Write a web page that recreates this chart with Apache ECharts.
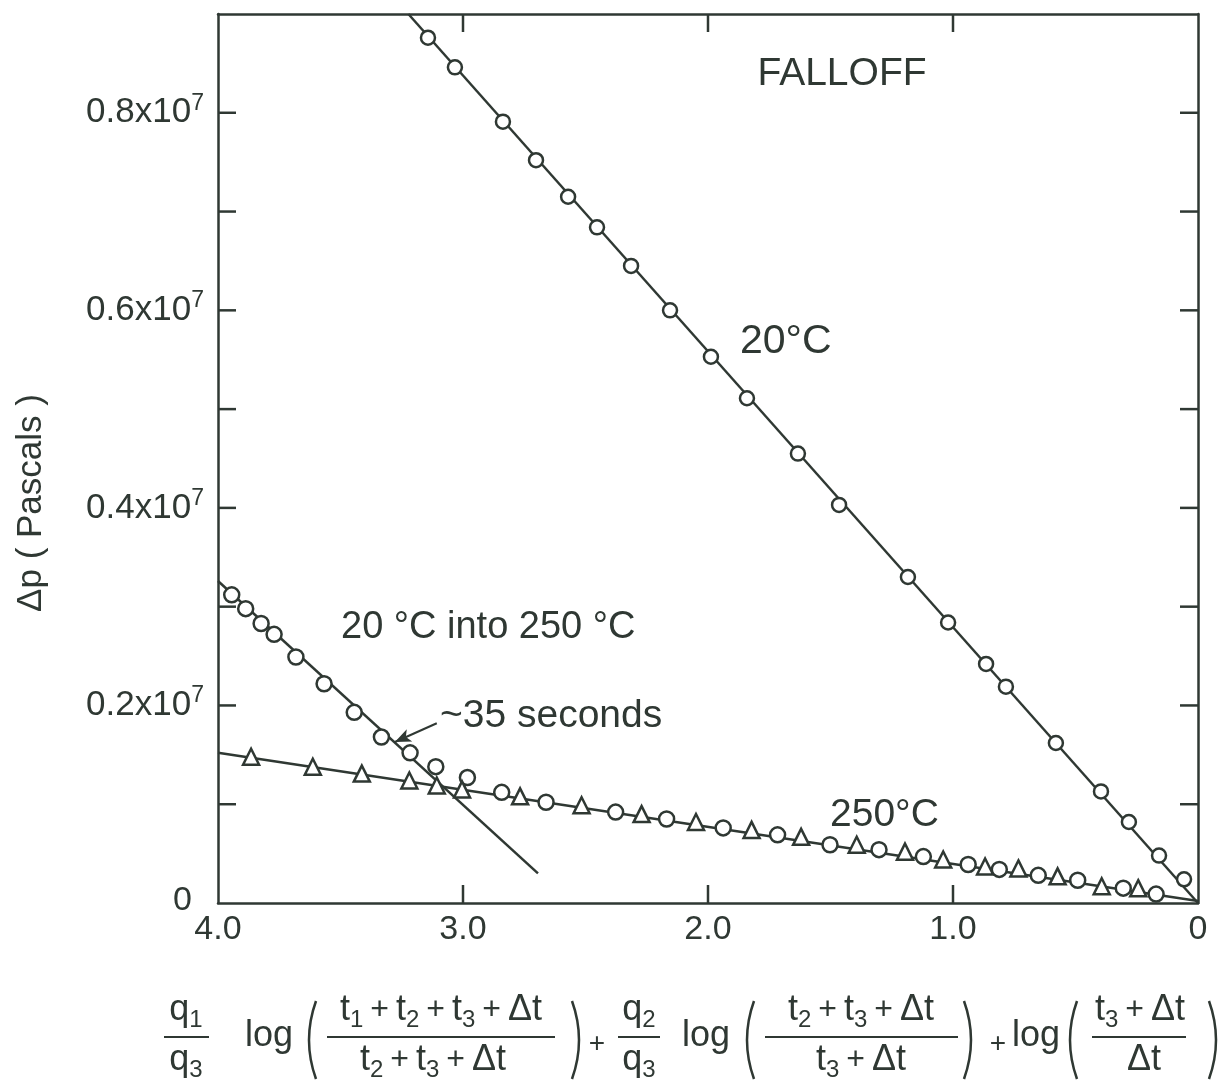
<!DOCTYPE html>
<html>
<head>
<meta charset="utf-8">
<script src="https://cdn.jsdelivr.net/npm/echarts@6/dist/echarts.min.js"></script>
<style>
  html, body { margin: 0; padding: 0; background: #fff; }
  #main { width: 1229px; height: 1082px; }
</style>
</head>
<body>
<div id="main"></div>
<script>
// x = (q1/q3)log(...) + (q2/q3)log(...) + log(...), y = Δp in units of 10^7 Pa

// 20 °C falloff (circles)
const x20 = [3.143, 3.033, 2.837, 2.702, 2.571, 2.453, 2.314, 2.155, 1.988, 1.841, 1.633,
  1.465, 1.184, 1.020, 0.865, 0.784, 0.580, 0.396, 0.282, 0.159, 0.057]
const dp20 = [0.876, 0.846, 0.791, 0.752, 0.715, 0.684, 0.645, 0.600, 0.553, 0.511, 0.455,
  0.403, 0.330, 0.284, 0.242, 0.219, 0.162, 0.113, 0.082, 0.048, 0.024]

// 20 °C into 250 °C (circles)
const xInto = [3.944, 3.887, 3.824, 3.771, 3.682, 3.567, 3.444, 3.333, 3.216, 3.111, 2.982,
  2.842, 2.661, 2.377, 2.169, 1.938, 1.716, 1.502, 1.302, 1.121, 0.938, 0.811, 0.652,
  0.491, 0.305, 0.171]
const dpInto = [0.312, 0.298, 0.283, 0.272, 0.249, 0.222, 0.193, 0.168, 0.152, 0.138, 0.127,
  0.112, 0.102, 0.092, 0.085, 0.076, 0.069, 0.059, 0.054, 0.047, 0.039, 0.034, 0.028,
  0.023, 0.015, 0.009]

// 250 °C falloff (triangles)
const x250 = [3.865, 3.613, 3.413, 3.219, 3.107, 3.004, 2.767, 2.516, 2.271, 2.049, 1.822,
  1.620, 1.393, 1.196, 1.040, 0.869, 0.733, 0.573, 0.393, 0.244]
const dp250 = [0.148, 0.138, 0.131, 0.124, 0.119, 0.115, 0.108, 0.099, 0.090, 0.082, 0.074,
  0.067, 0.059, 0.052, 0.044, 0.037, 0.035, 0.027, 0.017, 0.015]

// straight lines drawn through the data
const fit20X = [0, 3.223]
const fit20Y = [0, 0.9]
const fitIntoX = [4.0, 2.694]
const fitIntoY = [0.326, 0.030]
const fit250X = [4.0, 0]
const fit250Y = [0.152, 0.002]

// "~35 seconds" arrow
const arrowFrom = [3.107, 0.182]
const arrowTo = [3.278, 0.163]

const xTicks = ['4.0', '3.0', '2.0', '1.0', '0']
// inner tick marks on the frame
const xTickVals = [1, 2, 3]
const yTickVals = [0.1, 0.2, 0.3, 0.4, 0.5, 0.6, 0.7, 0.8]

const ink = '#2f3833'
const fam = 'Liberation Sans'

function pairs(xs, ys) {
  return xs.map(function (x, i) { return [x, ys[i]] })
}

const chart = echarts.init(document.getElementById('main'))

// formula styles
const fr = {
  m: { fontSize: 36, lineHeight: 44, fontFamily: fam },
  b: { fontSize: 24, lineHeight: 14, verticalAlign: 'bottom', fontFamily: fam },
  p: { fontSize: 32, lineHeight: 44, fontFamily: fam, padding: [0, 7, 0, 7] }
}

function t(x, y, text, size, extra) {
  return {
    type: 'text', x: x, y: y, silent: true,
    style: Object.assign({
      text: text, fontSize: size, fontFamily: fam, fill: ink,
      align: 'center', verticalAlign: 'middle', rich: fr
    }, extra || {})
  }
}
function seg(x1, y1, x2, y2, w) {
  return { type: 'line', silent: true, z: 100, shape: { x1: x1, y1: y1, x2: x2, y2: y2 }, style: { stroke: ink, lineWidth: w } }
}
function bar(x1, x2, y) {
  return seg(x1, y, x2, y, 2)
}
// thin tall parenthesis, dir -1 = "(" , 1 = ")"
function paren(x, dir) {
  return { type: 'bezierCurve', silent: true,
    shape: { x1: x - dir * 5, y1: 1001, x2: x - dir * 5, y2: 1079, cpx1: x + dir * 9, cpy1: 1040 },
    style: { stroke: ink, lineWidth: 2.5, fill: null } }
}

const numY = 1010
const denY = 1060
const barY = 1037

const formula = [
  t(186, numY, '{m|q}{b|1}'), bar(164, 209, barY), t(186, denY, '{m|q}{b|3}'),
  t(269, 1036, '{m|log}'),
  paren(311, -1),
  t(441, numY, '{m|t}{b|1}{p|+}{m|t}{b|2}{p|+}{m|t}{b|3}{p|+}{m|Δt}'), bar(327, 555, barY),
  t(433, denY, '{m|t}{b|2}{p|+}{m|t}{b|3}{p|+}{m|Δt}'),
  paren(577, 1),
  t(597, 1044, '+', 28),
  t(639, numY, '{m|q}{b|2}'), bar(618, 660, barY), t(639, denY, '{m|q}{b|3}'),
  t(706, 1036, '{m|log}'),
  paren(749, -1),
  t(861, numY, '{m|t}{b|2}{p|+}{m|t}{b|3}{p|+}{m|Δt}'), bar(765, 958, barY),
  t(861, denY, '{m|t}{b|3}{p|+}{m|Δt}'),
  paren(969, 1),
  t(998, 1044, '+', 28),
  t(1036, 1036, '{m|log}'),
  paren(1072, -1),
  t(1140, numY, '{m|t}{b|3}{p|+}{m|Δt}'), bar(1092, 1186, barY),
  t(1144, denY, '{m|Δt}'),
  paren(1214, 1)
]

const notes = [
  t(842, 74, 'FALLOFF', 39),
  t(740, 342, '20°C', 41, { align: 'left' }),
  t(341, 628, '20 °C into 250 °C', 38, { align: 'left' }),
  t(440, 716, '~35 seconds', 39, { align: 'left' }),
  t(830, 815, '250°C', 39, { align: 'left' }),
  { type: 'text', x: 31, y: 503, rotation: Math.PI / 2, silent: true,
    style: { text: 'Δp ( Pascals )', fontSize: 35, fontFamily: fam, fill: ink, align: 'center', verticalAlign: 'middle' } }
]

function axLine() {
  return { show: true, onZero: false, lineStyle: { color: ink, width: 2.5 } }
}
const noTick = { show: false }

const option = {
  backgroundColor: '#fff',
  animation: false,
  textStyle: { fontFamily: fam },
  grid: { left: 218, right: 31, top: 14, bottom: 179, outerBoundsMode: 'none' },
  xAxis: [{
    type: 'value', inverse: true, min: 0, max: 4, interval: 1, position: 'bottom',
    axisLine: axLine(), axisTick: noTick, splitLine: { show: false },
    axisLabel: {
      margin: 10, color: ink, fontSize: 34, fontFamily: fam,
      formatter: function (v) { return xTicks[4 - Math.round(v)] }
    }
  }, {
    type: 'value', inverse: true, min: 0, max: 4, interval: 1, position: 'top',
    axisLine: axLine(), axisTick: noTick, splitLine: { show: false },
    axisLabel: { show: false }
  }],
  yAxis: [{
    type: 'value', min: 0, max: 0.9, interval: 0.1, position: 'left',
    axisLine: axLine(), axisTick: noTick, splitLine: { show: false },
    axisLabel: {
      margin: 14, color: ink, fontFamily: fam,
      formatter: function (v) {
        const k = Math.round(v * 10)
        if (k === 0) return '{z|0}'
        if (k % 2) return ''
        return '{n|0.' + k + 'x10}{s|7}'
      },
      rich: {
        n: { fontSize: 35, lineHeight: 42, fontFamily: fam, color: ink },
        s: { fontSize: 23, lineHeight: 22, verticalAlign: 'top', fontFamily: fam, color: ink },
        z: { fontSize: 34, fontFamily: fam, color: ink, padding: [0, 12, 4, 0] }
      }
    }
  }, {
    type: 'value', min: 0, max: 0.9, interval: 0.1, position: 'right',
    axisLine: axLine(), axisTick: noTick, splitLine: { show: false },
    axisLabel: { show: false }
  }],
  series: [{
    name: 'fit 20', type: 'line', data: pairs(fit20X, fit20Y), showSymbol: false,
    lineStyle: { color: ink, width: 2.5 }, silent: true, z: 2
  }, {
    name: 'fit into', type: 'line', data: pairs(fitIntoX, fitIntoY), showSymbol: false,
    lineStyle: { color: ink, width: 2.5 }, silent: true, z: 2
  }, {
    name: 'fit 250', type: 'line', data: pairs(fit250X, fit250Y), showSymbol: false,
    lineStyle: { color: ink, width: 2.5 }, silent: true, z: 2,
    markLine: {
      silent: true, symbol: ['none', 'arrow'], symbolSize: [10, 16],
      label: { show: false },
      lineStyle: { color: ink, width: 2, type: 'solid' },
      data: [[{ coord: arrowFrom }, { coord: arrowTo }]]
    }
  }, {
    name: '20 °C', type: 'scatter', data: pairs(x20, dp20), symbol: 'circle', symbolSize: 14,
    itemStyle: { color: '#fff', borderColor: ink, borderWidth: 2.5, opacity: 1 }, z: 5
  }, {
    name: '20 °C into 250 °C', type: 'scatter', data: pairs(xInto, dpInto), symbol: 'circle', symbolSize: 15,
    itemStyle: { color: '#fff', borderColor: ink, borderWidth: 2.5, opacity: 1 }, z: 5
  }, {
    name: '250 °C', type: 'scatter', data: pairs(x250, dp250), symbol: 'triangle', symbolSize: 16,
    itemStyle: { color: '#fff', borderColor: ink, borderWidth: 2.5, opacity: 1 }, z: 5
  }],
  graphic: formula.concat(notes)
}

chart.setOption(option)

// inward ticks on all four sides, placed through the axes' own scales
const tickLen = 18
const xLeft = chart.convertToPixel({ xAxisIndex: 0 }, 4)
const xRight = chart.convertToPixel({ xAxisIndex: 0 }, 0)
const yBottom = chart.convertToPixel({ yAxisIndex: 0 }, 0)
const yTop = chart.convertToPixel({ yAxisIndex: 0 }, 0.9)
const tickMarks = []
xTickVals.forEach(function (v) {
  const px = chart.convertToPixel({ xAxisIndex: 0 }, v)
  tickMarks.push(seg(px, yBottom, px, yBottom - tickLen, 2.5))
  tickMarks.push(seg(px, yTop, px, yTop + tickLen, 2.5))
})
yTickVals.forEach(function (v) {
  const py = chart.convertToPixel({ yAxisIndex: 0 }, v)
  tickMarks.push(seg(xLeft, py, xLeft + tickLen, py, 2.5))
  tickMarks.push(seg(xRight, py, xRight - tickLen, py, 2.5))
})
chart.setOption({ graphic: formula.concat(notes, tickMarks) })
</script>
</body>
</html>
